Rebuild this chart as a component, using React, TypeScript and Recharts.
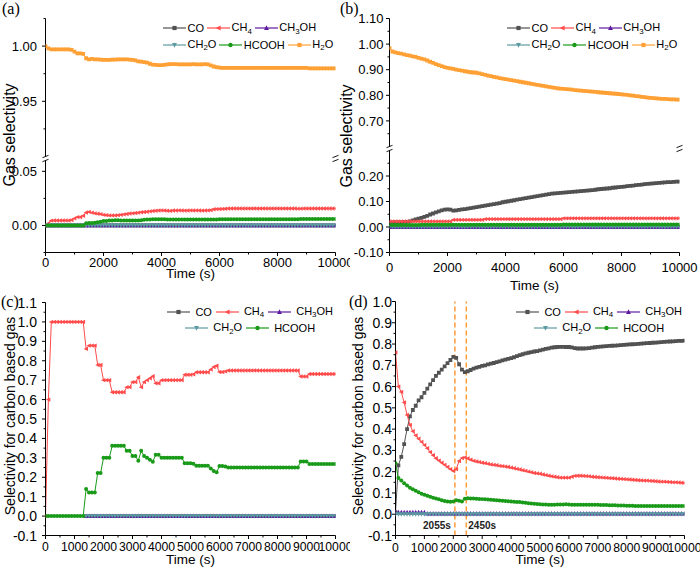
import React from 'react';
import { LineChart, Line, XAxis, YAxis, ReferenceLine } from 'recharts';

const SANS = '"Liberation Sans", Arial, Helvetica, sans-serif';
const SERIF = '"Liberation Serif", "Times New Roman", serif';

// sampling grid shared by every panel (s)
const timeSteps = Array.from({ length: 101 }, (_, i) => i * 100);

// ---------- panel (a) ----------
const zeroTrace = [
  0, 0, 0, 0, 0, 0, 0, 0, 0, 0,
  0, 0, 0, 0, 0, 0, 0, 0, 0, 0,
  0, 0, 0, 0, 0, 0, 0, 0, 0, 0,
  0, 0, 0, 0, 0, 0, 0, 0, 0, 0,
  0, 0, 0, 0, 0, 0, 0, 0, 0, 0,
  0, 0, 0, 0, 0, 0, 0, 0, 0, 0,
  0, 0, 0, 0, 0, 0, 0, 0, 0, 0,
  0, 0, 0, 0, 0, 0, 0, 0, 0, 0,
  0, 0, 0, 0, 0, 0, 0, 0, 0, 0,
  0, 0, 0, 0, 0, 0, 0, 0, 0, 0,
  0,
];
const aCH4 = [
  0, 0.002, 0.0045, 0.0046, 0.0046, 0.0046, 0.0046, 0.0046, 0.0046, 0.005,
  0.0065, 0.0077, 0.0077, 0.009, 0.012, 0.0125, 0.0118, 0.0112, 0.0108, 0.0105,
  0.0098, 0.0095, 0.0093, 0.0093, 0.0093, 0.0095, 0.0098, 0.0102, 0.0106, 0.011,
  0.0112, 0.0115, 0.0118, 0.0122, 0.0124, 0.0126, 0.013, 0.0133, 0.0136, 0.0138,
  0.0139, 0.0138, 0.0136, 0.0135, 0.0138, 0.0138, 0.0139, 0.0138, 0.0137, 0.0138,
  0.0139, 0.0138, 0.0139, 0.0138, 0.0137, 0.0138, 0.0139, 0.0141, 0.015, 0.0151,
  0.0152, 0.0153, 0.0154, 0.0156, 0.0157, 0.0157, 0.0157, 0.0157, 0.0157, 0.0157,
  0.0157, 0.0157, 0.0157, 0.0157, 0.0157, 0.0157, 0.0157, 0.0157, 0.0157, 0.0157,
  0.0157, 0.0157, 0.0157, 0.0157, 0.0157, 0.0156, 0.0156, 0.0155, 0.0155, 0.0157,
  0.0157, 0.0157, 0.0157, 0.0157, 0.0157, 0.0157, 0.0157, 0.0157, 0.0157, 0.0157,
  0.0157,
];
const aHCOOH = [
  0, 0, 0, 0, 0, 0, 0, 0, 0, 0,
  0, 0, 0, 0, 0.002, 0.0022, 0.0022, 0.0025, 0.003, 0.0035,
  0.004, 0.0042, 0.0045, 0.0046, 0.0047, 0.0047, 0.0046, 0.0046, 0.0045, 0.0045,
  0.0045, 0.0046, 0.0046, 0.0048, 0.0052, 0.0055, 0.0056, 0.0057, 0.0057, 0.0057,
  0.0057, 0.0057, 0.0056, 0.0056, 0.0056, 0.0056, 0.0056, 0.0056, 0.0056, 0.0056,
  0.0056, 0.0056, 0.0056, 0.0056, 0.0056, 0.0056, 0.0056, 0.0056, 0.0056, 0.0056,
  0.0057, 0.0057, 0.0057, 0.0057, 0.0057, 0.0057, 0.0057, 0.0057, 0.0057, 0.0057,
  0.0057, 0.0057, 0.0057, 0.0057, 0.0057, 0.0057, 0.0057, 0.0057, 0.0057, 0.0057,
  0.0057, 0.0057, 0.0057, 0.0057, 0.0057, 0.0057, 0.0057, 0.0057, 0.006, 0.006,
  0.006, 0.006, 0.006, 0.006, 0.006, 0.006, 0.006, 0.006, 0.006, 0.006,
  0.006,
];
const aH2O = [
  1.0, 0.998, 0.997, 0.997, 0.997, 0.997, 0.997, 0.997, 0.997, 0.9965,
  0.995, 0.9935, 0.9935, 0.993, 0.989, 0.988, 0.9885, 0.988, 0.988, 0.9878,
  0.9875, 0.9875, 0.9875, 0.9878, 0.9878, 0.988, 0.988, 0.988, 0.988, 0.9878,
  0.9875, 0.987, 0.9862, 0.986, 0.9855, 0.985, 0.984, 0.9833, 0.983, 0.9828,
  0.9828, 0.983, 0.9835, 0.9836, 0.9837, 0.9836, 0.9835, 0.9835, 0.9834, 0.9834,
  0.9835, 0.9836, 0.9835, 0.9834, 0.9835, 0.9836, 0.9834, 0.9825, 0.9815, 0.981,
  0.9805, 0.9803, 0.9803, 0.9803, 0.9803, 0.9803, 0.9803, 0.9803, 0.9803, 0.9803,
  0.9803, 0.9803, 0.9803, 0.9803, 0.9803, 0.9803, 0.9803, 0.9803, 0.9803, 0.9803,
  0.9803, 0.9803, 0.9803, 0.9803, 0.9803, 0.9803, 0.9803, 0.9803, 0.9803, 0.9803,
  0.9803, 0.9798, 0.9798, 0.9798, 0.9798, 0.9798, 0.9798, 0.9798, 0.9798, 0.9798,
  0.9798,
];

// ---------- panel (b) ----------
const bCO = [
  0.018, 0.018, 0.019, 0.019, 0.019, 0.02, 0.02, 0.022, 0.026, 0.03,
  0.033, 0.036, 0.04, 0.044, 0.049, 0.053, 0.057, 0.061, 0.065, 0.068,
  0.069, 0.068, 0.064, 0.065, 0.067, 0.069, 0.07, 0.072, 0.074, 0.076,
  0.078, 0.08, 0.082, 0.084, 0.086, 0.088, 0.09, 0.092, 0.094, 0.097,
  0.099, 0.101, 0.103, 0.105, 0.107, 0.109, 0.111, 0.113, 0.115, 0.117,
  0.119, 0.121, 0.123, 0.125, 0.127, 0.129, 0.131, 0.132, 0.133, 0.134,
  0.135, 0.136, 0.137, 0.138, 0.139, 0.14, 0.141, 0.142, 0.143, 0.144,
  0.145, 0.146, 0.148, 0.149, 0.15, 0.151, 0.152, 0.154, 0.155, 0.156,
  0.157, 0.158, 0.16, 0.161, 0.162, 0.164, 0.165, 0.166, 0.168, 0.169,
  0.17, 0.171, 0.172, 0.173, 0.174, 0.175, 0.176, 0.176, 0.177, 0.178,
  0.178,
];
const bCH4 = [
  0.022, 0.022, 0.022, 0.022, 0.022, 0.022, 0.022, 0.022, 0.022, 0.022,
  0.022, 0.022, 0.022, 0.022, 0.022, 0.022, 0.022, 0.022, 0.022, 0.022,
  0.022, 0.022, 0.028, 0.028, 0.028, 0.028, 0.028, 0.028, 0.028, 0.028,
  0.028, 0.028, 0.028, 0.031, 0.031, 0.031, 0.031, 0.031, 0.031, 0.031,
  0.031, 0.031, 0.031, 0.031, 0.031, 0.031, 0.031, 0.031, 0.031, 0.031,
  0.031, 0.031, 0.031, 0.031, 0.031, 0.031, 0.031, 0.031, 0.031, 0.031,
  0.034, 0.034, 0.034, 0.034, 0.034, 0.034, 0.034, 0.034, 0.034, 0.034,
  0.034, 0.034, 0.034, 0.034, 0.034, 0.034, 0.034, 0.034, 0.034, 0.034,
  0.034, 0.034, 0.034, 0.034, 0.034, 0.034, 0.034, 0.034, 0.034, 0.034,
  0.034, 0.034, 0.034, 0.034, 0.034, 0.034, 0.034, 0.034, 0.034, 0.034,
  0.034,
];
const bHCOOH = [
  0.008, 0.008, 0.008, 0.008, 0.008, 0.008, 0.008, 0.008, 0.008, 0.008,
  0.008, 0.009, 0.009, 0.009, 0.009, 0.009, 0.009, 0.009, 0.009, 0.009,
  0.009, 0.009, 0.009, 0.009, 0.009, 0.009, 0.009, 0.009, 0.009, 0.009,
  0.009, 0.009, 0.009, 0.009, 0.009, 0.009, 0.009, 0.009, 0.009, 0.009,
  0.009, 0.009, 0.009, 0.009, 0.009, 0.009, 0.009, 0.009, 0.009, 0.009,
  0.009, 0.009, 0.009, 0.009, 0.009, 0.009, 0.009, 0.009, 0.009, 0.009,
  0.01, 0.01, 0.01, 0.01, 0.01, 0.01, 0.01, 0.01, 0.01, 0.01,
  0.01, 0.01, 0.01, 0.01, 0.01, 0.01, 0.01, 0.01, 0.01, 0.01,
  0.01, 0.01, 0.01, 0.01, 0.01, 0.01, 0.01, 0.01, 0.01, 0.01,
  0.01, 0.01, 0.01, 0.01, 0.01, 0.01, 0.01, 0.01, 0.01, 0.01,
  0.01,
];
const bH2O = [
  0.984, 0.971, 0.968, 0.965, 0.963, 0.96, 0.957, 0.955, 0.952, 0.95,
  0.946, 0.943, 0.94, 0.936, 0.931, 0.927, 0.922, 0.918, 0.914, 0.91,
  0.907, 0.905, 0.903, 0.9, 0.898, 0.896, 0.894, 0.892, 0.89, 0.889,
  0.888, 0.886, 0.883, 0.88, 0.877, 0.875, 0.872, 0.87, 0.867, 0.865,
  0.863, 0.861, 0.859, 0.857, 0.855, 0.853, 0.851, 0.849, 0.847, 0.845,
  0.843, 0.841, 0.839, 0.837, 0.835, 0.833, 0.831, 0.829, 0.827, 0.826,
  0.825, 0.824, 0.823, 0.822, 0.82, 0.819, 0.818, 0.817, 0.816, 0.815,
  0.814, 0.813, 0.812, 0.811, 0.81, 0.809, 0.808, 0.807, 0.806, 0.805,
  0.804, 0.803, 0.802, 0.8, 0.799, 0.797, 0.796, 0.794, 0.793, 0.791,
  0.79, 0.789, 0.788, 0.787, 0.786, 0.786, 0.785, 0.784, 0.784, 0.783,
  0.783,
];

// ---------- panel (c) ----------
// CO, CH3OH and CH2O only appear once HCOOH shows up
const cLateZero = [
  null, null, null, null, null, null, null, null, null, null,
  null, null, null, null, 0, 0, 0, 0, 0, 0,
  0, 0, 0, 0, 0, 0, 0, 0, 0, 0,
  0, 0, 0, 0, 0, 0, 0, 0, 0, 0,
  0, 0, 0, 0, 0, 0, 0, 0, 0, 0,
  0, 0, 0, 0, 0, 0, 0, 0, 0, 0,
  0, 0, 0, 0, 0, 0, 0, 0, 0, 0,
  0, 0, 0, 0, 0, 0, 0, 0, 0, 0,
  0, 0, 0, 0, 0, 0, 0, 0, 0, 0,
  0, 0, 0, 0, 0, 0, 0, 0, 0, 0,
  0,
];
const cCH4 = [
  0, 0.6, 1.0, 1.0, 1.0, 1.0, 1.0, 1.0, 1.0, 1.0,
  1.0, 1.0, 1.0, 1.0, 0.861, 0.878, 0.878, 0.878, 0.778, 0.778,
  0.7, 0.7, 0.7, 0.638, 0.638, 0.638, 0.638, 0.638, 0.664, 0.664,
  0.69, 0.69, 0.715, 0.664, 0.69, 0.7, 0.71, 0.72, 0.684, 0.684,
  0.7, 0.7, 0.7, 0.7, 0.7, 0.7, 0.7, 0.7, 0.728, 0.728,
  0.728, 0.73, 0.741, 0.741, 0.741, 0.741, 0.741, 0.755, 0.768, 0.774,
  0.742, 0.742, 0.745, 0.75, 0.75, 0.75, 0.75, 0.75, 0.75, 0.75,
  0.75, 0.75, 0.75, 0.75, 0.75, 0.75, 0.75, 0.75, 0.75, 0.75,
  0.75, 0.75, 0.75, 0.75, 0.75, 0.75, 0.75, 0.75, 0.719, 0.719,
  0.719, 0.732, 0.732, 0.732, 0.732, 0.732, 0.732, 0.732, 0.732, 0.732,
  0.732,
];
const cHCOOH = [
  0, 0, 0, 0, 0, 0, 0, 0, 0, 0,
  0, 0, 0, 0, 0.139, 0.122, 0.122, 0.122, 0.222, 0.222,
  0.3, 0.3, 0.3, 0.362, 0.362, 0.362, 0.362, 0.362, 0.336, 0.336,
  0.31, 0.31, 0.285, 0.336, 0.31, 0.3, 0.29, 0.28, 0.316, 0.316,
  0.3, 0.3, 0.3, 0.3, 0.3, 0.3, 0.3, 0.3, 0.272, 0.272,
  0.272, 0.27, 0.259, 0.259, 0.259, 0.259, 0.259, 0.245, 0.232, 0.226,
  0.258, 0.258, 0.255, 0.25, 0.25, 0.25, 0.25, 0.25, 0.25, 0.25,
  0.25, 0.25, 0.25, 0.25, 0.25, 0.25, 0.25, 0.25, 0.25, 0.25,
  0.25, 0.25, 0.25, 0.25, 0.25, 0.25, 0.25, 0.25, 0.281, 0.281,
  0.281, 0.268, 0.268, 0.268, 0.268, 0.268, 0.268, 0.268, 0.268, 0.268,
  0.268,
];

// ---------- panel (d) ----------
const dCO = [
  0.01, 0.23, 0.27, 0.33, 0.4, 0.46, 0.49, 0.51, 0.535, 0.55,
  0.57, 0.59, 0.61, 0.63, 0.65, 0.665, 0.68, 0.695, 0.71, 0.725,
  0.74, 0.735, 0.705, 0.68, 0.668, 0.672, 0.678, 0.684, 0.689, 0.693,
  0.697, 0.7, 0.704, 0.708, 0.711, 0.715, 0.719, 0.723, 0.727, 0.73,
  0.734, 0.738, 0.743, 0.748, 0.752, 0.756, 0.759, 0.762, 0.765, 0.767,
  0.77, 0.774, 0.777, 0.78, 0.783, 0.785, 0.786, 0.787, 0.787, 0.786,
  0.786, 0.784, 0.781, 0.779, 0.779, 0.779, 0.78, 0.781, 0.783, 0.785,
  0.787, 0.788, 0.789, 0.79, 0.791, 0.792, 0.793, 0.794, 0.795, 0.796,
  0.797, 0.798, 0.799, 0.8, 0.801, 0.802, 0.803, 0.804, 0.805, 0.806,
  0.807, 0.808, 0.809, 0.81, 0.811, 0.812, 0.813, 0.814, 0.815, 0.815,
  0.816,
];
const dCH4 = [
  0.76, 0.6, 0.575, 0.525, 0.467, 0.42, 0.39, 0.37, 0.355, 0.34,
  0.325, 0.31, 0.292, 0.277, 0.263, 0.252, 0.242, 0.232, 0.222, 0.212,
  0.203, 0.212, 0.25, 0.264, 0.267, 0.262, 0.256, 0.251, 0.248, 0.245,
  0.242, 0.24, 0.237, 0.234, 0.232, 0.23, 0.227, 0.226, 0.224, 0.222,
  0.219, 0.216, 0.213, 0.21, 0.207, 0.204, 0.2, 0.197, 0.194, 0.192,
  0.19, 0.187, 0.184, 0.181, 0.178, 0.176, 0.174, 0.172, 0.172, 0.172,
  0.172, 0.176, 0.18, 0.181, 0.181, 0.18, 0.179, 0.178, 0.176, 0.175,
  0.174, 0.173, 0.172, 0.171, 0.17, 0.169, 0.168, 0.167, 0.166, 0.165,
  0.164, 0.163, 0.162, 0.161, 0.16, 0.159, 0.158, 0.158, 0.157, 0.156,
  0.155, 0.154, 0.153, 0.153, 0.152, 0.151, 0.15, 0.15, 0.149, 0.148,
  0.147,
];
const dCH3OH = [
  0.009, 0.009, 0.009, 0.009, 0.009, 0.009, 0.009, 0.009, 0.009, 0.009,
  0.009, 0.003, 0.003, 0.003, 0.003, 0.003, 0.003, 0.003, 0.003, 0.003,
  0.003, 0.003, 0.003, 0.003, 0.003, 0.003, 0.003, 0.003, 0.003, 0.003,
  0.003, 0.003, 0.003, 0.003, 0.003, 0.003, 0.003, 0.003, 0.003, 0.003,
  0.003, 0.003, 0.003, 0.003, 0.003, 0.003, 0.003, 0.003, 0.003, 0.003,
  0.003, 0.003, 0.003, 0.003, 0.003, 0.003, 0.003, 0.003, 0.003, 0.003,
  0.003, 0.003, 0.003, 0.003, 0.003, 0.003, 0.003, 0.003, 0.003, 0.003,
  0.003, 0.003, 0.003, 0.003, 0.003, 0.003, 0.003, 0.003, 0.003, 0.003,
  0.003, 0.003, 0.003, 0.003, 0.003, 0.003, 0.003, 0.003, 0.003, 0.003,
  0.003, 0.003, 0.003, 0.003, 0.003, 0.003, 0.003, 0.003, 0.003, 0.003,
  0.003,
];
const dHCOOH = [
  0.24, 0.17, 0.158, 0.146, 0.135, 0.125, 0.117, 0.11, 0.103, 0.096,
  0.091, 0.087, 0.082, 0.078, 0.074, 0.07, 0.066, 0.062, 0.06, 0.059,
  0.06, 0.066, 0.063, 0.06, 0.073, 0.075, 0.074, 0.074, 0.073, 0.072,
  0.071, 0.07, 0.069, 0.068, 0.067, 0.066, 0.064, 0.063, 0.062, 0.061,
  0.06, 0.059, 0.058, 0.057, 0.055, 0.054, 0.052, 0.05, 0.049, 0.048,
  0.047, 0.046, 0.046, 0.045, 0.045, 0.045, 0.046, 0.046, 0.046, 0.047,
  0.046, 0.045, 0.045, 0.045, 0.045, 0.045, 0.045, 0.044, 0.044, 0.044,
  0.044, 0.043, 0.043, 0.043, 0.042, 0.042, 0.042, 0.041, 0.041, 0.041,
  0.04, 0.04, 0.04, 0.039, 0.039, 0.039, 0.039, 0.039, 0.039, 0.039,
  0.039, 0.039, 0.039, 0.039, 0.039, 0.039, 0.039, 0.039, 0.039, 0.039,
  0.039,
];
const eventTimes = [2055, 2450];
const eventLabels = ['2055s', '2450s'];

// ---------- ticks ----------
const xTicks1000 = [0, 1000, 2000, 3000, 4000, 5000, 6000, 7000, 8000, 9000, 10000];
const xMajor2000 = [0, 2000, 4000, 6000, 8000, 10000];
const xTicks500 = [0, 500, 1000, 1500, 2000, 2500, 3000, 3500, 4000, 4500, 5000, 5500, 6000, 6500, 7000, 7500, 8000, 8500, 9000, 9500, 10000];
const aTopTicks = [0.925, 0.95, 0.975, 1.0, 1.025];
const aTopMajor = [0.95, 1.0];
const aLowTicks = [-0.025, 0, 0.025, 0.05];
const aLowMajor = [0, 0.05];
const bTopTicks = [0.65, 0.7, 0.75, 0.8, 0.85, 0.9, 0.95, 1.0, 1.05, 1.1];
const bTopMajor = [0.7, 0.8, 0.9, 1.0, 1.1];
const bLowTicks = [-0.1, -0.05, 0, 0.05, 0.1, 0.15, 0.2, 0.25];
const bLowMajor = [-0.1, 0, 0.1, 0.2];
const cMajor = [-0.1, 0, 0.1, 0.2, 0.3, 0.4, 0.5, 0.6, 0.7, 0.8, 0.9, 1.0, 1.1];
const cTicks = [-0.1, -0.05, 0, 0.05, 0.1, 0.15, 0.2, 0.25, 0.3, 0.35, 0.4, 0.45, 0.5, 0.55, 0.6, 0.65, 0.7, 0.75, 0.8, 0.85, 0.9, 0.95, 1.0, 1.05, 1.1];
const dMajor = [-0.1, 0, 0.1, 0.2, 0.3, 0.4, 0.5, 0.6, 0.7, 0.8, 0.9, 1.0];
const dTicks = [-0.1, -0.05, 0, 0.05, 0.1, 0.15, 0.2, 0.25, 0.3, 0.35, 0.4, 0.45, 0.5, 0.55, 0.6, 0.65, 0.7, 0.75, 0.8, 0.85, 0.9, 0.95, 1.0];

const X_DOMAIN: [number, number] = [0, 10000];

const gasColor: Record<string, string> = {
  co: '#525252',
  ch4: '#ff4b4b',
  ch3oh: '#5e1a9e',
  ch2o: '#5b9ba1',
  hcooh: '#199a19',
  h2o: '#ffa035',
};
const gasShape: Record<string, string> = {
  co: 'square', ch4: 'left', ch3oh: 'up', ch2o: 'down', hcooh: 'circle', h2o: 'square',
};
const gasLabel: Record<string, React.ReactNode> = {
  co: 'CO',
  ch4: <>CH<Sub>4</Sub></>,
  ch3oh: <>CH<Sub>3</Sub>OH</>,
  ch2o: <>CH<Sub>2</Sub>O</>,
  hcooh: 'HCOOH',
  h2o: <>H<Sub>2</Sub>O</>,
};
const sixGases = ['co', 'ch4', 'ch3oh', 'ch2o', 'hcooh', 'h2o'];
const fiveGases = ['co', 'ch4', 'ch3oh', 'ch2o', 'hcooh'];

function Sub({ children }: { children: React.ReactNode }) {
  return <span style={{ fontSize: '0.72em', position: 'relative', top: '0.32em' }}>{children}</span>;
}

function buildRows(cols: Record<string, (number | null)[]>) {
  return timeSteps.map((t, i) => {
    const row: Record<string, number | null> = { t };
    Object.keys(cols).forEach((k) => { row[k] = cols[k][i]; });
    return row;
  });
}

const rowsA = buildRows({ co: zeroTrace, ch4: aCH4, ch3oh: zeroTrace, ch2o: zeroTrace, hcooh: aHCOOH, h2o: aH2O });
const rowsB = buildRows({ co: bCO, ch4: bCH4, ch3oh: zeroTrace, ch2o: zeroTrace, hcooh: bHCOOH, h2o: bH2O });
const rowsC = buildRows({ co: cLateZero, ch4: cCH4, ch3oh: cLateZero, ch2o: cLateZero, hcooh: cHCOOH });
const rowsD = buildRows({ co: dCO, ch4: dCH4, ch3oh: dCH3OH, ch2o: zeroTrace, hcooh: dHCOOH });

function Mark({ shape, cx, cy, color, s }: { shape: string; cx: number; cy: number; color: string; s: number }) {
  if (shape === 'circle') return <circle cx={cx} cy={cy} r={s * 1.05} fill={color} />;
  let d = '';
  if (shape === 'square') d = `M${cx - s},${cy - s}h${2 * s}v${2 * s}h${-2 * s}z`;
  else if (shape === 'left') d = `M${cx - s * 1.3},${cy}L${cx + s},${cy - s * 1.15}L${cx + s},${cy + s * 1.15}z`;
  else if (shape === 'up') d = `M${cx},${cy - s * 1.3}L${cx + s * 1.15},${cy + s}L${cx - s * 1.15},${cy + s}z`;
  else d = `M${cx},${cy + s * 1.3}L${cx + s * 1.15},${cy - s}L${cx - s * 1.15},${cy - s}z`;
  return <path d={d} fill={color} />;
}

const dotFor = (key: string) => (p: any) => {
  const k = `${key}-${p.index}`;
  if (p.cx == null || p.cy == null || p.value == null) return <g key={k} />;
  return <Mark key={k} shape={gasShape[key]} cx={p.cx} cy={p.cy} color={gasColor[key]} s={1.9} />;
};

const near = (list: number[], v: number) => list.some((m) => Math.abs(m - v) < 1e-9);

function XTick(props: any) {
  const { x, y, payload, major, baseline, fontSize } = props;
  const isMajor = near(major, payload.value);
  return (
    <g>
      <line x1={x} x2={x} y1={y} y2={y + (isMajor ? 3.5 : 2)} stroke="#000" />
      {isMajor && (
        <text x={x} y={y + baseline} textAnchor="middle" fontSize={fontSize} fontFamily={SANS} fill="#000">
          {payload.value}
        </text>
      )}
    </g>
  );
}

function YTick(props: any) {
  const { x, y, payload, major, digits, fontSize, gap } = props;
  const v = payload.value as number;
  const isMajor = near(major, v);
  return (
    <g>
      <line x1={x - (isMajor ? 3.5 : 2)} x2={x} y1={y} y2={y} stroke="#000" />
      {isMajor && (
        <text x={x - gap} y={y} dy="0.36em" textAnchor="end" fontSize={fontSize} fontFamily={SANS} fill="#000">
          {Math.abs(v) < 1e-9 ? (0).toFixed(digits) : v.toFixed(digits)}
        </text>
      )}
    </g>
  );
}

interface YSpec { domain: [number, number]; ticks: number[]; major: number[]; width: number; digits: number; fontSize: number; gap: number }
interface XSpec { ticks: number[]; major: number[]; height: number; baseline: number; fontSize: number }

function Segment(p: {
  rows: any[]; gases: string[]; left: number; top: number; width: number; height: number;
  margin: { top: number; right: number; bottom: number; left: number };
  y: YSpec; x?: XSpec; topLine?: boolean; children?: React.ReactNode;
}) {
  const axisLine = { stroke: '#000', strokeWidth: 1 };
  return (
    <div style={{ position: 'absolute', left: p.left, top: p.top }}>
      <LineChart width={p.width} height={p.height} data={p.rows} margin={p.margin}>
        {p.x ? (
          <XAxis
            dataKey="t" type="number" domain={X_DOMAIN} ticks={p.x.ticks} interval={0}
            height={p.x.height} tickSize={0} tickMargin={0} tickLine={false} axisLine={axisLine} allowDataOverflow
            tick={(tp: any) => <XTick {...tp} major={p.x!.major} baseline={p.x!.baseline} fontSize={p.x!.fontSize} />}
          />
        ) : (
          <XAxis dataKey="t" type="number" domain={X_DOMAIN} hide allowDataOverflow />
        )}
        {p.topLine && (
          <XAxis xAxisId="top" orientation="top" type="number" domain={X_DOMAIN} height={0}
            tick={false} tickLine={false} axisLine={axisLine} />
        )}
        <YAxis
          type="number" domain={p.y.domain} ticks={p.y.ticks} interval={0} width={p.y.width}
          tickSize={0} tickMargin={0} tickLine={false} axisLine={axisLine} allowDataOverflow
          tick={(tp: any) => <YTick {...tp} major={p.y.major} digits={p.y.digits} fontSize={p.y.fontSize} gap={p.y.gap} />}
        />
        <YAxis yAxisId="right" orientation="right" type="number" domain={p.y.domain} width={0}
          tick={false} tickLine={false} axisLine={axisLine} allowDataOverflow />
        {p.gases.map((g) => (
          <Line key={g} dataKey={g} type="linear" stroke={gasColor[g]} strokeWidth={1}
            dot={dotFor(g)} activeDot={false} isAnimationActive={false} connectNulls={false} />
        ))}
        {p.children}
      </LineChart>
    </div>
  );
}

function EventTag(props: any) {
  const vb = props.viewBox || {};
  const x = vb.x ?? 0;
  const bottom = (vb.y ?? 0) + (vb.height ?? 0);
  const left = props.side === 'left';
  return (
    <text x={left ? x - 4 : x + 2} y={bottom - 7} textAnchor={left ? 'end' : 'start'}
      fontSize={10} fontWeight="bold" fontFamily={SANS} fill="#222">
      {props.text}
    </text>
  );
}

function LegendBlock({ rows, style, align, textGap, itemGap }: {
  rows: string[][]; style: React.CSSProperties; align: 'flex-start' | 'center'; textGap: number; itemGap: number;
}) {
  return (
    <div style={{ position: 'absolute', display: 'flex', flexDirection: 'column', alignItems: align, fontFamily: SANS, fontSize: 11, color: '#000', ...style }}>
      {rows.map((row, ri) => (
        <div key={ri} style={{ display: 'flex', gap: itemGap, height: 16.5, alignItems: 'center', whiteSpace: 'nowrap' }}>
          {row.map((g) => (
            <div key={g} style={{ display: 'flex', alignItems: 'center' }}>
              <svg width={23} height={10} style={{ display: 'block' }}>
                <line x1={0} x2={23} y1={5} y2={5} stroke={gasColor[g]} strokeWidth={1.2} />
                <Mark shape={gasShape[g]} cx={11.5} cy={5} color={gasColor[g]} s={2.1} />
              </svg>
              <span style={{ marginLeft: textGap, lineHeight: '12px' }}>{gasLabel[g]}</span>
            </div>
          ))}
        </div>
      ))}
    </div>
  );
}

function BreakMarks({ xs, yEnd, yStart }: { xs: number[]; yEnd: number; yStart: number }) {
  return (
    <g stroke="#000" strokeWidth={0.9}>
      {xs.map((x) => (
        <g key={x}>
          <line x1={x - 3} y1={yEnd + 1.2} x2={x + 3} y2={yEnd - 1.2} />
          <line x1={x - 3} y1={yStart + 1.2} x2={x + 3} y2={yStart - 1.2} />
        </g>
      ))}
    </g>
  );
}

export default function App() {
  const m0 = { top: 0, right: 0, bottom: 0, left: 0 };
  return (
    <div style={{ position: 'absolute', left: 0, top: 0, width: 700, height: 575, background: '#fff', overflow: 'hidden' }}>
      {/* (a) */}
      <div style={{ position: 'absolute', left: 0, top: 0, width: 350, height: 290, overflow: 'hidden' }}>
        <Segment rows={rowsA} gases={sixGases} left={0} top={0} width={350} height={157}
          margin={{ ...m0, top: 18.5, right: 14.5, bottom: 0.5 }} topLine
          y={{ domain: [0.9, 1.025], ticks: aTopTicks, major: aTopMajor, width: 45.5, digits: 2, fontSize: 13, gap: 8.5 }} />
        <Segment rows={rowsA} gases={sixGases} left={0} top={160} width={350} height={128}
          margin={{ ...m0, top: 0.5, right: 14.5 }}
          y={{ domain: [-0.025, 0.06], ticks: aLowTicks, major: aLowMajor, width: 45.5, digits: 2, fontSize: 13, gap: 8.5 }}
          x={{ ticks: xTicks1000, major: xMajor2000, height: 35.5, baseline: 14.3, fontSize: 13 }} />
      </div>
      {/* (b) */}
      <Segment rows={rowsB} gases={sixGases} left={350} top={0} width={350} height={147}
        margin={{ ...m0, top: 18.5, right: 20.5, bottom: 0.5 }} topLine
        y={{ domain: [0.6, 1.1], ticks: bTopTicks, major: bTopMajor, width: 39.5, digits: 2, fontSize: 13, gap: 6 }} />
      <Segment rows={rowsB} gases={sixGases} left={350} top={150} width={350} height={138}
        margin={{ ...m0, top: 0.5, right: 20.5 }}
        y={{ domain: [-0.1, 0.3], ticks: bLowTicks, major: bLowMajor, width: 39.5, digits: 2, fontSize: 13, gap: 6 }}
        x={{ ticks: xTicks1000, major: xMajor2000, height: 35.5, baseline: 19.5, fontSize: 13 }} />
      {/* (c) */}
      <div style={{ position: 'absolute', left: 0, top: 285, width: 350, height: 290, overflow: 'hidden' }}>
        <Segment rows={rowsC} gases={fiveGases} left={0} top={0} width={350} height={290}
          margin={{ ...m0, top: 17.5, right: 14.5 }} topLine
          y={{ domain: [-0.1, 1.1], ticks: cTicks, major: cMajor, width: 45.5, digits: 1, fontSize: 14, gap: 8.5 }}
          x={{ ticks: xTicks500, major: xTicks1000, height: 39.5, baseline: 15.3, fontSize: 12.2 }} />
      </div>
      {/* (d) */}
      <Segment rows={rowsD} gases={fiveGases} left={350} top={285} width={350} height={290}
        margin={{ ...m0, top: 16.5, right: 15.5 }} topLine
        y={{ domain: [-0.1, 1.0], ticks: dTicks, major: dMajor, width: 45.5, digits: 1, fontSize: 14, gap: 3.5 }}
        x={{ ticks: xTicks500, major: xTicks1000, height: 39.5, baseline: 16, fontSize: 12.2 }}>
        {eventTimes.map((t, i) => (
          <ReferenceLine key={t} x={t} stroke="#ff9a3a" strokeDasharray="5 3" strokeWidth={1.5}
            label={<EventTag text={eventLabels[i]} side={i === 0 ? 'left' : 'right'} />} />
        ))}
      </Segment>

      <svg width={700} height={575} style={{ position: 'absolute', left: 0, top: 0, pointerEvents: 'none' }}>
        <BreakMarks xs={[45.5, 335.5]} yEnd={156.5} yStart={160.5} />
        <BreakMarks xs={[389.5, 679.5]} yEnd={146.5} yStart={150.5} />
        <g fontFamily={SERIF} fontSize={16} fill="#000">
          <text x={2} y={13.5}>(a)</text>
          <text x={340} y={13.5}>(b)</text>
          <text x={1} y={306.5}>(c)</text>
          <text x={349} y={306.5}>(d)</text>
        </g>
        <g fontFamily={SANS} fill="#000" textAnchor="middle">
          <text x={190.5} y={278} fontSize={13.5}>Time (s)</text>
          <text x={534.5} y={289.6} fontSize={13.5}>Time (s)</text>
          <text x={190.5} y={563.5} fontSize={13.5}>Time (s)</text>
          <text x={540} y={564} fontSize={13.5}>Time (s)</text>
          <text transform="translate(9.5,135) rotate(-90)" dominantBaseline="central" fontSize={16}>Gas selectivity</text>
          <text transform="translate(346,136) rotate(-90)" dominantBaseline="central" fontSize={16}>Gas selectivity</text>
          <text transform="translate(10,416) rotate(-90)" dominantBaseline="central" fontSize={14}>Selectivity for carbon based gas</text>
          <text transform="translate(357.5,416) rotate(-90)" dominantBaseline="central" fontSize={14}>Selectivity for carbon based gas</text>
        </g>
      </svg>

      <LegendBlock rows={[['co', 'ch4', 'ch3oh'], ['ch2o', 'hcooh', 'h2o']]} align="flex-start" textGap={1.5} itemGap={3}
        style={{ left: 163, top: 20 }} />
      <LegendBlock rows={[['co', 'ch4', 'ch3oh'], ['ch2o', 'hcooh', 'h2o']]} align="flex-start" textGap={1.5} itemGap={3}
        style={{ left: 507, top: 20 }} />
      <LegendBlock rows={[['co', 'ch4', 'ch3oh'], ['ch2o', 'hcooh']]} align="center" textGap={5} itemGap={4}
        style={{ right: 367, top: 303.5 }} />
      <LegendBlock rows={[['co', 'ch4', 'ch3oh'], ['ch2o', 'hcooh']]} align="center" textGap={5} itemGap={4}
        style={{ right: 18, top: 303.5 }} />
    </div>
  );
}
